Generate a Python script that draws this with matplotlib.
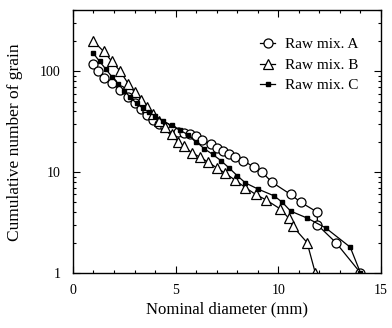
import matplotlib
matplotlib.use("Agg")
import matplotlib.pyplot as plt
from matplotlib.ticker import MultipleLocator, LogLocator, NullFormatter, FixedLocator, FixedFormatter

plt.rcParams['font.family'] = ['Liberation Serif', 'DejaVu Serif']

# values
dia_a = [1.0, 1.2, 1.5, 1.9, 2.3, 2.7, 3.0, 3.3, 3.6, 3.9, 4.2, 4.5, 4.8, 5.1, 5.4, 5.7,
         6.0, 6.3, 6.7, 7.0, 7.3, 7.6, 7.9, 8.3, 8.8, 9.2, 9.7, 10.6, 11.1, 11.9, 11.9, 12.8, 14.0]
num_a = [118, 100, 86, 76, 65, 56, 48, 42, 37, 33, 30, 28, 26, 25, 24.5, 24,
         23, 21, 19, 17.5, 16, 15, 14, 13, 11.2, 10, 7.9, 6.0, 5.0, 4.0, 3.0, 2.0, 1.0]

dia_b = [1.0, 1.5, 1.9, 2.3, 2.7, 3.0, 3.3, 3.6, 3.9, 4.2, 4.5, 4.8, 5.1, 5.4, 5.8, 6.2,
         6.6, 7.0, 7.4, 7.9, 8.4, 8.9, 9.4, 10.1, 10.5, 10.7, 11.4, 11.8]
num_b = [198, 157, 125, 100, 75, 62, 52, 44, 38, 32, 28, 24, 20, 18, 15.5, 14,
         12.5, 11, 9.8, 8.3, 7.0, 6.0, 5.3, 4.3, 3.5, 2.9, 2.0, 1.0]

dia_c = [1.0, 1.3, 1.6, 1.9, 2.2, 2.5, 2.8, 3.1, 3.4, 3.7, 4.0, 4.4, 4.8, 5.2, 5.6, 6.0,
         6.4, 6.8, 7.2, 7.6, 8.0, 8.4, 9.0, 9.8, 10.2, 10.6, 11.4, 12.3, 13.5, 14.0]
num_c = [150, 125, 105, 88, 75, 64, 55, 48, 43, 39, 36, 32, 29, 26, 23.5, 20,
         17, 15, 13, 11, 9.2, 7.8, 6.8, 5.8, 5.0, 4.1, 3.5, 2.8, 1.8, 1.0]

fig = plt.figure(figsize=(3.92, 3.28), dpi=100)
ax = fig.add_axes([0.186, 0.168, 0.786, 0.800])

ax.plot(dia_a, num_a, color='black', lw=0.9, marker='o', ms=6.5, mfc='white', mec='black',
        mew=0.9, label='Raw mix. A')
ax.plot(dia_b, num_b, color='black', lw=0.9, marker='^', ms=7, mfc='white', mec='black',
        mew=0.9, label='Raw mix. B')
ax.plot(dia_c, num_c, color='black', lw=0.9, marker='s', ms=3.5, mfc='black', mec='black',
        label='Raw mix. C')

ax.set_yscale('log')
ax.set_xlim(0, 15)
ax.set_ylim(1, 400)

ax.xaxis.set_major_locator(MultipleLocator(5))
ax.xaxis.set_minor_locator(MultipleLocator(1))
ax.yaxis.set_major_locator(FixedLocator([1, 10, 100]))
ax.yaxis.set_major_formatter(FixedFormatter(['1', '10', '100']))
ax.yaxis.set_minor_locator(LogLocator(base=10, subs=range(2, 10)))
ax.yaxis.set_minor_formatter(NullFormatter())

ax.tick_params(which='both', direction='in', top=True, right=True, labelsize=10, width=0.8)
ax.tick_params(which='major', length=5)
ax.tick_params(which='minor', length=2.5)
ax.tick_params(axis='x', which='major', pad=8)
ax.tick_params(axis='y', which='major', pad=9)
for s in ax.spines.values():
    s.set_linewidth(1.0)

ax.set_xlabel('Nominal diameter (mm)', fontsize=12, labelpad=3)
ax.set_ylabel('Cumulative number of grain', fontsize=12.5, labelpad=12)

ax.legend(loc='upper right', bbox_to_anchor=(0.945, 0.92), frameon=False, fontsize=11,
          handlelength=1.0, handletextpad=0.6, labelspacing=0.45, borderaxespad=0)

fig.savefig('out.png', dpi=100)
